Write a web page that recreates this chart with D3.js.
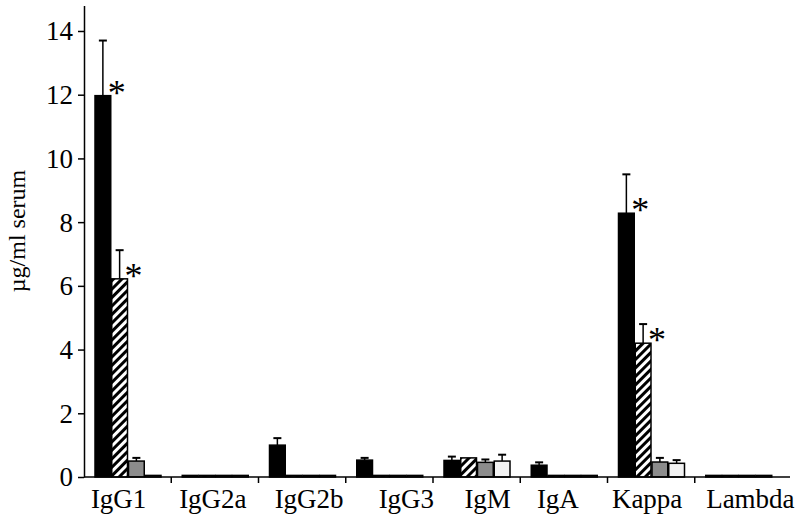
<!DOCTYPE html>
<html>
<head>
<meta charset="utf-8">
<script src="https://cdn.jsdelivr.net/npm/d3@7"></script>
<style>
  body { margin: 0; background: #fff; }
  text { font-family: "Liberation Serif", "Times New Roman", serif; }
</style>
</head>
<body>
<svg id="chart" width="800" height="521"></svg>
<script>
var categories = ["IgG1", "IgG2a", "IgG2b", "IgG3", "IgM", "IgA", "Kappa", "Lambda"];
var series = ["black", "hatched", "grey", "white"];

// mean values per series, in category order
var blackVals   = [11.97, 0.05, 1.0, 0.53, 0.52, 0.37, 8.28, 0.05];
var hatchedVals = [6.22, 0.05, 0.05, 0.05, 0.6, 0.05, 4.2, 0.05];
var greyVals    = [0.5, 0.05, 0.05, 0.05, 0.46, 0.05, 0.47, 0.05];
var whiteVals   = [0.05, 0.05, 0.05, 0.05, 0.5, 0.05, 0.43, 0.05];

// top of error bar (mean + SD)
var blackErr   = [13.7, 0.07, 1.22, 0.6, 0.64, 0.46, 9.5, 0.07];
var hatchedErr = [7.12, 0.07, 0.07, 0.07, 0.63, 0.07, 4.8, 0.07];
var greyErr    = [0.6, 0.07, 0.07, 0.07, 0.55, 0.07, 0.6, 0.07];
var whiteErr   = [0.07, 0.07, 0.07, 0.07, 0.7, 0.07, 0.53, 0.07];

var yTicks = [0, 2, 4, 6, 8, 10, 12, 14];

// significant differences marked with *
var stars = [
  { cat: "IgG1", s: "black" }, { cat: "IgG1", s: "hatched" },
  { cat: "Kappa", s: "black" }, { cat: "Kappa", s: "hatched" }
];

// the original labels are hand placed, not exactly centred
var labelShift = [-9, -2, 7, 17, 11, -6, -4, 12];

var vals = { black: blackVals, hatched: hatchedVals, grey: greyVals, white: whiteVals };
var errs = { black: blackErr, hatched: hatchedErr, grey: greyErr, white: whiteErr };

var svg = d3.select("#chart");

var defs = svg.append("defs");
var pat = defs.append("pattern")
  .attr("id", "hatch")
  .attr("patternUnits", "userSpaceOnUse")
  .attr("width", 6).attr("height", 6)
  .attr("patternTransform", "rotate(45)");
pat.append("rect").attr("width", 6).attr("height", 6).attr("fill", "#fff");
pat.append("rect").attr("width", 3).attr("height", 6).attr("fill", "#000");

var fills = { black: "#000", hatched: "url(#hatch)", grey: "#8c8c8c", white: "#f2f2f2" };

var x = d3.scaleBand().domain(categories).range([84, 782]);
var xs = d3.scaleBand().domain(series).range([11, 77]).paddingInner(0.06);
var y = d3.scaleLinear().domain([0, 14.8]).range([477, 5.5]);

var rows = [];
categories.forEach((c, i) => {
  series.forEach(s => {
    rows.push({ cat: c, s: s, v: vals[s][i], e: errs[s][i] });
  });
});

// error bars (drawn first, bars on top)
var eb = svg.append("g").selectAll("g").data(rows.filter(d => d.e > d.v + 0.03)).enter().append("g");
eb.append("line")
  .attr("x1", d => x(d.cat) + xs(d.s) + xs.bandwidth() / 2)
  .attr("x2", d => x(d.cat) + xs(d.s) + xs.bandwidth() / 2)
  .attr("y1", d => y(d.v)).attr("y2", d => y(d.e))
  .attr("stroke", "#000").attr("stroke-width", 1.5);
eb.append("line")
  .attr("x1", d => x(d.cat) + xs(d.s) + xs.bandwidth() / 2 - 4)
  .attr("x2", d => x(d.cat) + xs(d.s) + xs.bandwidth() / 2 + 4)
  .attr("y1", d => y(d.e)).attr("y2", d => y(d.e))
  .attr("stroke", "#000").attr("stroke-width", 2);

svg.append("g").selectAll("rect").data(rows).enter().append("rect")
  .attr("x", d => x(d.cat) + xs(d.s))
  .attr("y", d => y(d.v))
  .attr("width", xs.bandwidth())
  .attr("height", d => y(0) - y(d.v))
  .attr("fill", d => fills[d.s])
  .attr("stroke", "#000").attr("stroke-width", 1.5);

// asterisks
svg.append("g").selectAll("text").data(stars).enter().append("text")
  .attr("x", d => x(d.cat) + xs(d.s) + xs.bandwidth() - 3)
  .attr("y", d => {
    var i = categories.indexOf(d.cat);
    return y(vals[d.s][i]) + 9;
  })
  .attr("font-size", 36)
  .text("*");

// y axis
var yAxis = svg.append("g").attr("transform", "translate(84,0)")
  .call(d3.axisLeft(y).tickValues(yTicks).tickSize(6).tickPadding(5).tickSizeOuter(0));
yAxis.select(".domain").attr("stroke-width", 1.5);
yAxis.selectAll(".tick line").attr("stroke-width", 1.5);
yAxis.selectAll("text").attr("font-size", 27).attr("font-family", "Liberation Serif").attr("dy", "0.33em");

// x axis with ticks between groups
var xg = svg.append("g");
xg.append("line").attr("x1", 84).attr("x2", 790).attr("y1", y(0)).attr("y2", y(0))
  .attr("stroke", "#000").attr("stroke-width", 1.5);
xg.selectAll("line.sep").data(categories.slice(1)).enter().append("line")
  .attr("class", "sep")
  .attr("x1", d => x(d)).attr("x2", d => x(d))
  .attr("y1", y(0)).attr("y2", y(0) + 6)
  .attr("stroke", "#000").attr("stroke-width", 1.5);
xg.selectAll("text").data(categories).enter().append("text")
  .attr("x", (d, i) => x(d) + x.bandwidth() / 2 + labelShift[i])
  .attr("y", 508)
  .attr("text-anchor", "middle")
  .attr("font-size", 27)
  .text(d => d);

svg.append("text")
  .attr("transform", "translate(25,231) rotate(-90)")
  .attr("text-anchor", "middle")
  .attr("font-size", 24)
  .text("µg/ml serum");
</script>
</body>
</html>
